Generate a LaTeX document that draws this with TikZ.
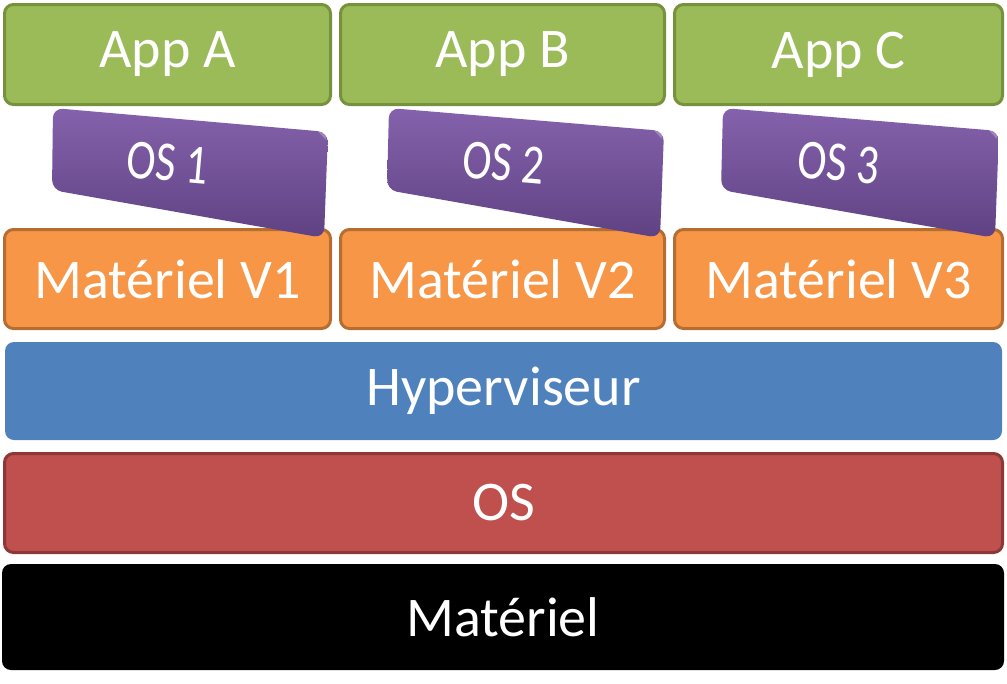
\documentclass[tikz,border=0pt]{standalone}
\usepackage{fontspec}
\usepackage{graphicx}
\setmainfont[Numbers=Lining]{Carlito}
\definecolor{appfill}{HTML}{9BBB59}
\definecolor{appline}{HTML}{77923C}
\definecolor{hwfill}{HTML}{F79646}
\definecolor{hwline}{HTML}{B66D31}
\definecolor{hypfill}{HTML}{4F81BD}
\definecolor{osfill}{HTML}{C0504D}
\definecolor{osline}{HTML}{8C3836}
\definecolor{vmtop}{HTML}{8562AC}
\definecolor{vmbot}{HTML}{5F4283}
% tall, narrow lettering for the guest system sheets
\newcommand{\talltext}[1]{\scalebox{1}[1.28]{#1}}
\begin{document}
\begin{tikzpicture}[x=1pt,y=-1pt,
  layer/.style={rounded corners=9pt, line width=3pt, text=white, inner sep=0pt,
    font=\fontsize{56}{62}\selectfont},
  appbox/.style={layer, fill=appfill, draw=appline, minimum height=100pt},
  vhwbox/.style={layer, fill=hwfill, draw=hwline, minimum height=99pt},
  vmlabel/.style={text=white, inner sep=0pt, rotate=-5,
    font=\fontsize{44}{50}\selectfont},
  vmsheet/.style={rounded corners=10pt, top color=vmtop, bottom color=vmbot, draw=none}]
\useasboundingbox (0,0) rectangle (1007,683);

% applications
\node[appbox, minimum width=326pt] (appA) at (167.5,54.5) {App A};
\node[appbox, minimum width=324pt] (appB) at (502.5,54.5) {App B};
\node[appbox, minimum width=328pt] (appC) at (838.5,54.5) {App C};

% virtual hardware
\node[vhwbox, minimum width=326pt] (hwV1) at (167.5,279) {Matériel V1};
\node[vhwbox, minimum width=324pt] (hwV2) at (502.5,279) {Matériel V2};
\node[vhwbox, minimum width=328pt] (hwV3) at (838.5,279) {Matériel V3};

% guest systems (tilted sheets, lying over the virtual hardware)
\shade[vmsheet] (53,108) -- (328,132) -- (324,238) -- (52,190) -- cycle;
\shade[vmsheet] (389,108) -- (664,131) -- (660,238) -- (387,190) -- cycle;
\shade[vmsheet] (723,108) -- (999,131) -- (995,238) -- (721,190) -- cycle;
\fill[white, opacity=0.25] (313,126) -- (327,128) -- (326,140) -- cycle;
\fill[white, opacity=0.25] (649,125) -- (663,127) -- (662,139) -- cycle;
\fill[white, opacity=0.25] (984,125) -- (998,127) -- (997,139) -- cycle;
\node[vmlabel] (os1) at (168,163) {\talltext{OS 1}};
\node[vmlabel] (os2) at (504,163) {\talltext{OS 2}};
\node[vmlabel] (os3) at (839,163) {\talltext{OS 3}};

% host stack
\node[layer, fill=hypfill, draw=none, minimum width=997pt, minimum height=98pt]
  (hyp) at (503.5,391) {Hyperviseur};
\node[layer, fill=osfill, draw=osline, minimum width=998pt, minimum height=99pt]
  (hostos) at (503.5,503) {OS};
\node[layer, fill=black, draw=none, minimum width=1002pt, minimum height=106pt]
  (hw) at (503,617) {Matériel};
\end{tikzpicture}
\end{document}
